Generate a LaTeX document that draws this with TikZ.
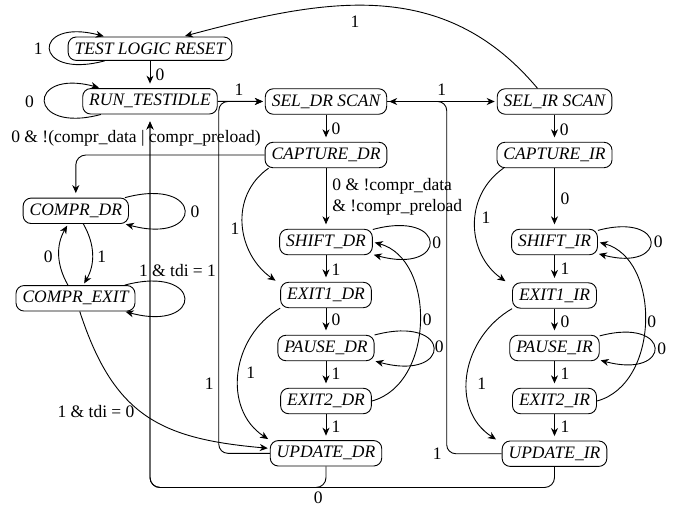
\documentclass[tikz,border=0pt]{standalone}
\usepackage{fontspec}
\setmainfont{Liberation Serif}
\usetikzlibrary{arrows.meta}
\begin{document}
\begin{tikzpicture}[x=1pt,y=-1pt,
  font=\fontsize{17.5pt}{21pt}\selectfont,
  line width=0.9pt,
  >={Stealth[length=8pt,width=7pt,inset=2.5pt]},
  state/.style={draw, rounded corners=8pt, inner xsep=6.5pt, inner ysep=5.8pt,
                font=\fontsize{17.5pt}{21pt}\selectfont\itshape},
  lbl/.style={inner sep=0pt},
  tr/.style={->, shorten >=2pt},
  vtr/.style={->, shorten >=4.5pt},
  route/.style={->, shorten >=2pt, rounded corners=9pt}]
\useasboundingbox (0,0) rectangle (678,506);

% states
\node[state] (tlr)   at (150,48.7)  {TEST LOGIC RESET};
\node[state] (rti)   at (150,101.3) {RUN\_TESTIDLE};
\node[state] (seldr) at (326,101.5) {SEL\_DR SCAN};
\node[state] (selir) at (554.5,101.5) {SEL\_IR SCAN};
\node[state] (capdr) at (326,155)   {CAPTURE\_DR};
\node[state] (capir) at (554.5,155) {CAPTURE\_IR};
\node[state] (cmpdr) at (75.8,210.8) {COMPR\_DR};
\node[state] (cmpex) at (75.5,298.3) {COMPR\_EXIT};
\node[state] (shdr)  at (326,242)   {SHIFT\_DR};
\node[state] (shir)  at (554.5,242) {SHIFT\_IR};
\node[state] (eadr)  at (326,295)   {EXIT1\_DR};
\node[state] (eair)  at (554.5,295.5) {EXIT1\_IR};
\node[state] (padr)  at (326,348)   {PAUSE\_DR};
\node[state] (pair)  at (554.5,348) {PAUSE\_IR};
\node[state] (ebdr)  at (326,401)   {EXIT2\_DR};
\node[state] (ebir)  at (554.5,401) {EXIT2\_IR};
\node[state] (updr)  at (326,453.3) {UPDATE\_DR};
\node[state] (upir)  at (554.5,453.7) {UPDATE\_IR};

\coordinate (bl) at (0,487.5);

% loops
\path (tlr)   edge[tr, loop left]  ();
\draw[tr] (rti) to[out=195,in=165,looseness=7.5] (rti);
\path (cmpdr) edge[tr, loop right] ();
\path (cmpex) edge[tr, loop right] ();
\path (shdr)  edge[tr, loop right] ();
\path (shir)  edge[tr, loop right] ();
\path (padr)  edge[tr, loop right] ();
\path (pair)  edge[tr, loop right] ();

% straight transitions
\draw[vtr] (tlr) -- (rti);
\draw[tr]  (rti) -- (seldr);
\draw[tr]  (seldr) -- (selir);
\draw[vtr] (seldr) -- (capdr);
\draw[vtr] (selir) -- (capir);
\draw[vtr] (capdr) -- (shdr);
\draw[vtr] (capir) -- (shir);
\draw[vtr] (shdr) -- (eadr);
\draw[vtr] (shir) -- (eair);
\draw[vtr] (eadr) -- (padr);
\draw[vtr] (eair) -- (pair);
\draw[vtr] (padr) -- (ebdr);
\draw[vtr] (pair) -- (ebir);
\draw[vtr] (ebdr) -- (updr);
\draw[vtr] (ebir) -- (upir);

% curved transitions
\draw[tr] ([xshift=-17pt]selir.north) to[out=130,in=15,looseness=1.05] ([xshift=33pt]tlr.north);
\draw[tr] ([xshift=4pt]capdr.south west) to[out=215,in=145,looseness=1.1] ([xshift=-3pt]eadr.north west);
\draw[tr] ([xshift=7pt]capir.south west) to[out=215,in=145,looseness=1.1] ([xshift=-5pt]eair.north west);
\draw[tr] (eadr.south west) to[out=210,in=147,looseness=1.1] (updr.north west);
\draw[tr] (eair.south west) to[out=210,in=147,looseness=1.12] ([xshift=-4pt]upir.north west);
\draw[tr] (ebdr.east) to[out=15,in=-15,looseness=1.05] (shdr.east);
\draw[tr] (ebir.east) to[out=15,in=-15,looseness=1.05] (shir.east);
\draw[tr] (cmpdr) to[bend left] (cmpex);
\draw[tr] (cmpex) to[bend left] (cmpdr);
\draw[tr] (cmpex) to[out=-72,in=175,looseness=1.2] (updr);

% routed transitions
\draw[route, shorten >=4.5pt, rounded corners=10pt] (capdr.west) -| (cmpdr.north);
\draw[route] (updr.west) -- ++(-51,0) |- (seldr.west);
\draw[route] (upir.west) -- ++(-55,0) |- (seldr.east);
\draw[route, shorten >=7pt, rounded corners=10pt] (updr.south) -- (updr.south |- bl) -| (rti.south);
\draw[route, shorten >=7pt, rounded corners=10pt] (upir.south) -- (upir.south |- bl) -| (rti.south);

% labels
\node[lbl] (l01) at (38.3,49)    {1};
\node[lbl] (l02) at (160,75)     {0};
\node[lbl] (l03) at (29.5,102)   {0};
\node[lbl] (l04) at (239,90)     {1};
\node[lbl] (l05) at (441.7,90)   {1};
\node[lbl] (l06) at (355,21.7)   {1};
\node[lbl] (l07) at (336,129)    {0};
\node[lbl] (l08) at (564.3,129.3) {0};
\node[lbl] (l09) at (136,138)    {0 \& !(compr\_data | compr\_preload)};
\node[lbl, anchor=west, align=left] (l10) at (332,197) {0 \& !compr\_data\\\& !compr\_preload};
\node[lbl] (l11) at (565,198.3)  {0};
\node[lbl] (l12) at (235,228.3)  {1};
\node[lbl] (l13) at (486,217.3)  {1};
\node[lbl] (l14) at (195,211.7)  {0};
\node[lbl] (l15) at (101.7,256.7) {1};
\node[lbl] (l16) at (48.3,256.7) {0};
\node[lbl] (l17) at (177.5,270.7) {1 \& tdi = 1};
\node[lbl] (l18) at (96,412)     {1 \& tdi = 0};
\node[lbl] (l19) at (436.7,242.7) {0};
\node[lbl] (l20) at (658.3,241.7) {0};
\node[lbl] (l21) at (336,270)    {1};
\node[lbl] (l22) at (565,268.3)  {1};
\node[lbl] (l23) at (336,320)    {0};
\node[lbl] (l24) at (565,321.7)  {0};
\node[lbl] (l25) at (427.3,320)  {0};
\node[lbl] (l26) at (651.7,321.7) {0};
\node[lbl] (l27) at (439.3,346.7) {0};
\node[lbl] (l28) at (661.7,348.3) {0};
\node[lbl] (l29) at (336,373.3)  {1};
\node[lbl] (l30) at (565,373.3)  {1};
\node[lbl] (l31) at (250.7,372.7) {1};
\node[lbl] (l32) at (481.7,383.3) {1};
\node[lbl] (l33) at (209.3,383.3) {1};
\node[lbl] (l34) at (336,426.7)  {1};
\node[lbl] (l35) at (565,426.7)  {1};
\node[lbl] (l36) at (437.3,454)  {1};
\node[lbl] (l37) at (318.3,497.5) {0};
\end{tikzpicture}
\end{document}
